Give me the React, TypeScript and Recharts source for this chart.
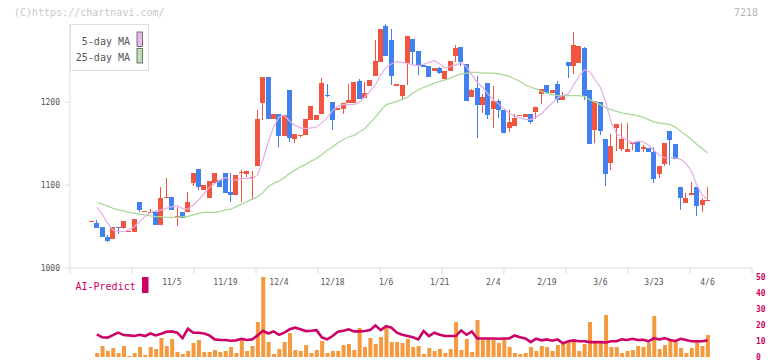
import React from 'react';
import { ComposedChart, Bar, Line, XAxis, YAxis } from 'recharts';

// ---- tick labels ----
const dateTicks = ['11/5', '11/19', '12/4', '12/18', '1/6', '1/21', '2/4', '2/19', '3/6', '3/23', '4/6'];
const dateTickIndex = [15, 25, 35, 45, 55, 65, 75, 85, 95, 105, 115];
const priceTicks = [1000, 1100, 1200];
const aiTicks = [0, 10, 20, 30, 40, 50];

// ---- OHLC ----
const open = [1056, 1054.2, 1049.4, 1037.7, 1034.5, 1049.4, 1048.2, 1043.7, 1044, 1080,
  1067.8, 1067.8, 1067.8, 1052, 1085.5, 1086, 1062.6, 1067.8, 1067, 1102,
  1119.6, 1093.5, 1085, 1102, 1106.4, 1114.8, 1092, 1087.5, 1114, 1112.8,
  1109.6, 1123.6, 1199.5, 1230.8, 1179.8, 1185.9, 1159.8, 1214.8, 1155.8, 1160.2,
  1160.6, 1178.7, 1178.7, 1185.5, 1209.2, 1200.4, 1191, 1192, 1199.2, 1199.2,
  1225.6, 1205.2, 1219, 1232, 1249, 1292, 1275, 1220, 1208, 1247,
  1276, 1261.8, 1245, 1243.7, 1238, 1241, 1228, 1237.7, 1255.4, 1266.6,
  1246, 1206.7, 1217, 1197, 1223, 1191.5, 1202, 1190.7, 1169.4, 1171.4,
  1183.5, 1182.6, 1186, 1188.7, 1210.4, 1220.8, 1211.2, 1222, 1202.8, 1248.5,
  1244, 1247.7, 1265.4, 1215, 1166.6, 1200.4, 1155.8, 1127.2, 1169.4, 1144,
  1140, 1149.6, 1152.5, 1144, 1145, 1140, 1113.6, 1125.7, 1165.4, 1149.8,
  1098, 1079, 1087.5, 1098, 1075.4, 1082.3];
const close = [1056, 1048.6, 1036.9, 1032, 1049.4, 1047.7, 1057, 1043.7, 1059.4, 1069.5,
  1067.8, 1067.8, 1051.3, 1084.3, 1085.5, 1069.4, 1062.6, 1060.6, 1080, 1114.8,
  1098.3, 1100.4, 1105, 1114, 1098.3, 1090.4, 1087.5, 1112, 1116.3, 1117.2,
  1109.6, 1179.8, 1230.8, 1179.8, 1185.9, 1159.8, 1184.7, 1157.3, 1161.8, 1160.2,
  1179.8, 1195.5, 1184.7, 1223.2, 1207.6, 1178.7, 1193, 1199.2, 1202.8, 1224.5,
  1203.9, 1211.2, 1227, 1250, 1288.3, 1256, 1232, 1222.4, 1220.8, 1280,
  1261, 1244, 1243, 1230, 1241, 1235.7, 1237.7, 1250, 1265, 1249,
  1202, 1214.8, 1197, 1206.4, 1185, 1202, 1190, 1163.4, 1176.6, 1180.7,
  1183.5, 1186, 1176.6, 1194.3, 1216, 1211.2, 1214.8, 1202.8, 1208.8, 1244,
  1269, 1268, 1207.6, 1149.8, 1202, 1165.8, 1113.6, 1147.3, 1173.8, 1156,
  1143.2, 1152.5, 1139.6, 1146, 1139.6, 1107.6, 1123.2, 1151, 1154.6, 1131.7,
  1085, 1084.7, 1090.7, 1074.2, 1082.3, 1082.3];
const high = [1056, 1058.2, 1049.4, 1040, 1049.4, 1049.4, 1057, 1043.7, 1059.4, 1080,
  1067.8, 1071, 1069, 1098, 1109, 1086, 1074, 1067.8, 1092, 1114.8,
  1119.6, 1100.4, 1105, 1115, 1106.4, 1114.8, 1114.8, 1112, 1118.4, 1117.2,
  1117, 1190.7, 1230.8, 1230.8, 1185.9, 1185.9, 1184.7, 1214.8, 1161.8, 1160.2,
  1179.8, 1195.5, 1184.7, 1229.3, 1222, 1200.4, 1193, 1199.2, 1222, 1224.5,
  1228, 1224, 1227, 1275, 1288.3, 1294.3, 1288.3, 1222.4, 1220.8, 1280,
  1276, 1261.8, 1245, 1243.7, 1241, 1242, 1237.7, 1250, 1269, 1266.6,
  1246, 1216, 1231, 1210, 1223, 1219.6, 1203.6, 1190.7, 1190.7, 1186,
  1183.5, 1186, 1186, 1194.3, 1216, 1220.8, 1214.8, 1225.6, 1212, 1248.5,
  1284.7, 1268, 1266.6, 1215, 1202, 1200.4, 1155.8, 1161.8, 1173.8, 1175,
  1175, 1152.5, 1153.6, 1148.6, 1145, 1146, 1123.2, 1151, 1165.4, 1149.8,
  1098, 1090.7, 1104, 1098, 1084.7, 1098];
const low = [1056, 1048.6, 1036.9, 1031, 1034.5, 1041, 1047, 1043.7, 1044, 1067,
  1067.8, 1067.8, 1051.3, 1052, 1085.5, 1069.4, 1051, 1060.6, 1067, 1099,
  1094, 1093.5, 1085, 1102, 1098.3, 1090.4, 1080, 1087.5, 1079.5, 1110,
  1082, 1123.6, 1178.7, 1179.8, 1179.8, 1146.5, 1159.8, 1152.5, 1150.8, 1157.8,
  1160.6, 1178.7, 1178.7, 1185.5, 1206, 1166.6, 1191, 1185.5, 1199.2, 1199.2,
  1203.9, 1205.2, 1219, 1232, 1249, 1256, 1220.8, 1220, 1204, 1220.8,
  1245, 1233, 1243, 1230, 1238, 1234, 1228, 1237.7, 1249, 1244,
  1202, 1206.7, 1156.6, 1187.5, 1179.5, 1169.4, 1180.5, 1163.4, 1164.6, 1171.4,
  1183.5, 1182.6, 1174, 1179.5, 1198, 1211.2, 1211.2, 1199.5, 1202.8, 1229.6,
  1234.5, 1247.7, 1202.8, 1149, 1150.6, 1161, 1099, 1118.4, 1141.3, 1141.3,
  1140, 1142.5, 1139.6, 1139.6, 1139.6, 1102, 1108.8, 1123.2, 1124.5, 1131.7,
  1069.4, 1079, 1087.5, 1062.2, 1067, 1082.3];

// ---- moving averages ----
const ma5 = [null, 1073, 1065, 1054, 1046, 1044, 1044, 1046, 1050, 1056,
  1062, 1067, 1069, 1070, 1072, 1074, 1075, 1072, 1071, 1076,
  1082, 1090, 1097, 1102, 1106, 1109, 1107, 1106, 1108, 1108,
  1108, 1112, 1130, 1152, 1170, 1182, 1184, 1177, 1172, 1169,
  1168, 1169, 1170, 1175, 1181, 1190, 1195, 1197, 1197, 1197,
  1200, 1206, 1213, 1221, 1233, 1242, 1246, 1249, 1248, 1247,
  1245, 1244, 1246, 1248, 1250, 1246, 1241, 1243, 1245, 1247,
  1243, 1233, 1224, 1218, 1210, 1203, 1198, 1192, 1187, 1183,
  1181, 1179, 1179, 1182, 1186, 1193, 1199, 1205, 1208, 1210,
  1221, 1231, 1239, 1237, 1227, 1218, 1200, 1176, 1162, 1158,
  1154, 1151, 1153, 1152, 1148, 1142, 1136, 1133, 1133, 1133,
  1131, 1126, 1117, 1100, 1088, 1083];
const ma25 = [null, 1079, 1077, 1075, 1072, 1070, 1069, 1067, 1066, 1065,
  1064, 1063, 1062, 1062, 1061, 1061, 1061, 1062, 1062, 1064,
  1066, 1067, 1067, 1067, 1068, 1070, 1071, 1074, 1077, 1080,
  1083, 1086, 1091, 1098, 1102, 1105, 1109, 1114, 1118, 1122,
  1125, 1129, 1132, 1137, 1142, 1146, 1151, 1155, 1158, 1160,
  1164, 1168, 1175, 1182, 1190, 1197, 1199, 1201, 1203, 1206,
  1211, 1215, 1218, 1220, 1223, 1225, 1227, 1229, 1232, 1234,
  1235, 1236, 1236, 1235, 1235, 1235, 1234, 1233, 1231, 1228,
  1225, 1221, 1218, 1216, 1213, 1211, 1209, 1208, 1208, 1208,
  1208, 1208, 1207, 1203, 1200, 1197, 1193, 1191, 1189, 1187,
  1186, 1185, 1183.5, 1182, 1179, 1176, 1175, 1174, 1173, 1170,
  1165, 1160, 1155, 1149, 1144, 1139];

// ---- lower panel ----
const volume = [null,
  4, 11, 6, 9, 4, 11, 1, 4, 10, 2, 10, 8, 19, 11, 18, 5, 3, 6, 14, 17,
  5, 5, 7, 5, 6, 10, 4, 18, 6, 11, 35, 80, 15, 3, 8, 15, 24, 7, 6, 12,
  4, 7, 16, 4, 6, 6, 12, 13, 7, 29, 10, 19, 13, 20, 29, 15, 15, 14, 18, 10, 11,
  3, 9, 6, 8, 4, 8, 35, 7, 18, 5, 37, 17, 18, 17, 14, 18, 10, 4, 3, 4,
  10, 6, 11, 10, 6, 12, 13, 16, 17, 6, 13, 35, 15, 14, 42, 10, 10, 4, 6, 7,
  11, 10, 14, 41, 8, 12, 18, 17, 9, 4, 9, 16, 11, 22];
const aiPredict = [null,
  14.1, 12.3, 12.1, 13.7, 15.2, 13.7, 13.5, 13.1, 13.9, 13.1,
  14.7, 13.5, 14.5, 15.8, 16.0, 15.2, 11.8, 17.7, 15.2, 15.2,
  14.7, 13.5, 11.0, 10.6, 10.6, 10.2, 10.4, 11.4, 10.6, 11.0,
  13.5, 16.4, 14.7, 16.0, 13.9, 15.2, 17.3, 18.3, 17.3, 16.2,
  16.4, 16.8, 12.3, 11.0, 13.1, 15.8, 16.4, 17.3, 16.0, 16.0,
  16.2, 16.8, 19.7, 16.8, 19.3, 18.3, 15.2, 13.9, 13.1, 12.3, 11.0,
  16.2, 13.1, 15.2, 13.9, 13.1, 13.1, 13.1, 16.6, 13.9, 16.0,
  11.6, 11.6, 11.6, 11.6, 11.4, 11.6, 11.6, 13.5, 12.4, 11.6,
  9.3, 11.4, 10.4, 11.0, 10.2, 11.0, 8.5, 9.8, 10.4, 9.8,
  9.8, 9.3, 9.3, 9.3, 9.1, 9.8, 9.8, 11.0, 10.6, 11.4,
  10.6, 10.8, 9.8, 11.8, 11.0, 11.8, 10.6, 10.0, 11.4, 10.6,
  9.8, 9.8, 9.8, 10.4];

const data = open.map((o, i) => ({
  i,
  o,
  h: high[i],
  l: low[i],
  c: close[i],
  ma5: ma5[i],
  ma25: ma25[i],
  vol: volume[i],
  ai: aiPredict[i],
}));

const X_DOMAIN: [number, number] = [-4.013, 123.3];
const UP = '#f2553f';
const DOWN = '#4080ef';
const AXIS = '#dddddd';
const MONO = '"DejaVu Sans Mono", "Liberation Mono", monospace';

function Candle(props: any) {
  const { x, y, width, height, payload } = props;
  if (x == null || y == null || !payload) return null;
  const { o, h, l, c } = payload;
  const color = c >= o ? UP : DOWN;
  const top = Math.min(y, y + (height || 0));
  const bot = Math.max(y, y + (height || 0));
  const cx = Math.floor(x + width / 2);
  if (h === l || bot - top < 0.01) {
    return <rect x={x} y={top - 0.5} width={width} height={1} fill={color} shapeRendering="crispEdges" />;
  }
  const k = (bot - top) / (h - l);
  const yo = top + (h - o) * k;
  const yc = top + (h - c) * k;
  const bt = Math.min(yo, yc);
  const bb = Math.max(yo, yc);
  return (
    <g shapeRendering="crispEdges">
      <rect x={cx} y={top} width={1} height={bot - top} fill={color} />
      <rect x={x} y={bt} width={width} height={Math.max(1, bb - bt)} fill={color} />
    </g>
  );
}

const EmptyTick = () => <g />;

const gridTicks = [0, 1, 2, 3, 4, 5, 6, 7, 8, 9, 10, 11];

export default function App() {
  return (
    <div style={{ position: 'absolute', left: 0, top: 0, width: 772, height: 361, background: '#fff', overflow: 'hidden' }}>
      <div style={{ position: 'absolute', left: 0, top: 0 }}>
        <ComposedChart width={772} height={300} data={data} margin={{ top: 24, right: 20, bottom: 0, left: 0 }}>
          <XAxis
            xAxisId="a-grid"
            type="number"
            dataKey="i"
            domain={[0, 11]}
            ticks={gridTicks}
            interval={0}
            allowDataOverflow
            height={1}
            axisLine={{ stroke: AXIS }}
            tick={<EmptyTick />}
            tickSize={6}
            tickLine={{ stroke: AXIS }}
          />
          <XAxis
            xAxisId="b-date"
            type="number"
            dataKey="i"
            domain={X_DOMAIN}
            allowDataOverflow
            ticks={dateTickIndex}
            tickFormatter={(v: number) => dateTicks[dateTickIndex.indexOf(v)] ?? ''}
            interval={0}
            height={31}
            axisLine={false}
            tickLine={false}
            tickSize={0}
            tickMargin={10}
            tick={{ fontSize: 8, fill: '#555', fontFamily: MONO }}
          />
          <YAxis
            type="number"
            domain={[1000, 1294.3]}
            allowDataOverflow
            ticks={priceTicks}
            interval={0}
            width={70}
            axisLine={{ stroke: AXIS }}
            tickLine={{ stroke: AXIS }}
            tickSize={5}
            tickMargin={5}
            tick={{ fontSize: 8, fill: '#555', fontFamily: MONO }}
          />
          <Line xAxisId="b-date" dataKey="ma25" stroke="#a9d89b" strokeWidth={1.3} dot={false} isAnimationActive={false} />
          <Line xAxisId="b-date" dataKey="ma5" stroke="#e5aee5" strokeWidth={1.2} dot={false} isAnimationActive={false} />
          <Bar
            xAxisId="b-date"
            dataKey={(d: any) => [d.l, d.h]}
            barSize={5}
            shape={<Candle />}
            isAnimationActive={false}
          />
        </ComposedChart>
      </div>
      <div style={{ position: 'absolute', left: 0, top: 0 }}>
        <ComposedChart width={772} height={361} data={data} margin={{ top: 277, right: 0, bottom: 4, left: 70 }}>
          <XAxis type="number" dataKey="i" domain={X_DOMAIN} allowDataOverflow hide />
          <YAxis yAxisId="vol" domain={[0, 80]} hide />
          <YAxis
            yAxisId="ai"
            orientation="right"
            domain={[0, 50]}
            ticks={aiTicks}
            interval={0}
            width={20}
            axisLine={false}
            tickLine={false}
            tickSize={0}
            tickMargin={4}
            tick={{ fontSize: 8, fill: '#cc0066', fontFamily: MONO, fontWeight: 'bold' }}
          />
          <Bar yAxisId="vol" dataKey="vol" barSize={4} fill="#f5993f" isAnimationActive={false} />
          <Line yAxisId="ai" dataKey="ai" stroke="#cc0066" strokeWidth={2.6} dot={false} isAnimationActive={false} />
        </ComposedChart>
      </div>
      <svg width={772} height={361} style={{ position: 'absolute', left: 0, top: 0, pointerEvents: 'none' }} fontFamily={MONO}>
        <text x={14} y={16} fontSize={10} fill="#c8c8c8">(C)https://chartnavi.com/</text>
        <text x={734} y={16} fontSize={10} fill="#b8b8b8">7218</text>
        <rect x={70.5} y={24.5} width={78} height={46} fill="#fff" stroke={AXIS} />
        <text x={130} y={45} fontSize={10} fill="#555" textAnchor="end">5-day MA</text>
        <text x={130} y={60.5} fontSize={10} fill="#555" textAnchor="end">25-day MA</text>
        <rect x={137} y={32} width={5.5} height={14.5} fill="#ecb8ec" stroke="#555" strokeWidth={0.8} />
        <rect x={137} y={48.5} width={5.5} height={14.5} fill="#bfe0b2" stroke="#555" strokeWidth={0.8} />
        <text x={75.5} y={290} fontSize={10} fill="#cc0066">AI-Predict</text>
        <rect x={142} y={277} width={6.5} height={16} fill="#cc0066" />
      </svg>
    </div>
  );
}
